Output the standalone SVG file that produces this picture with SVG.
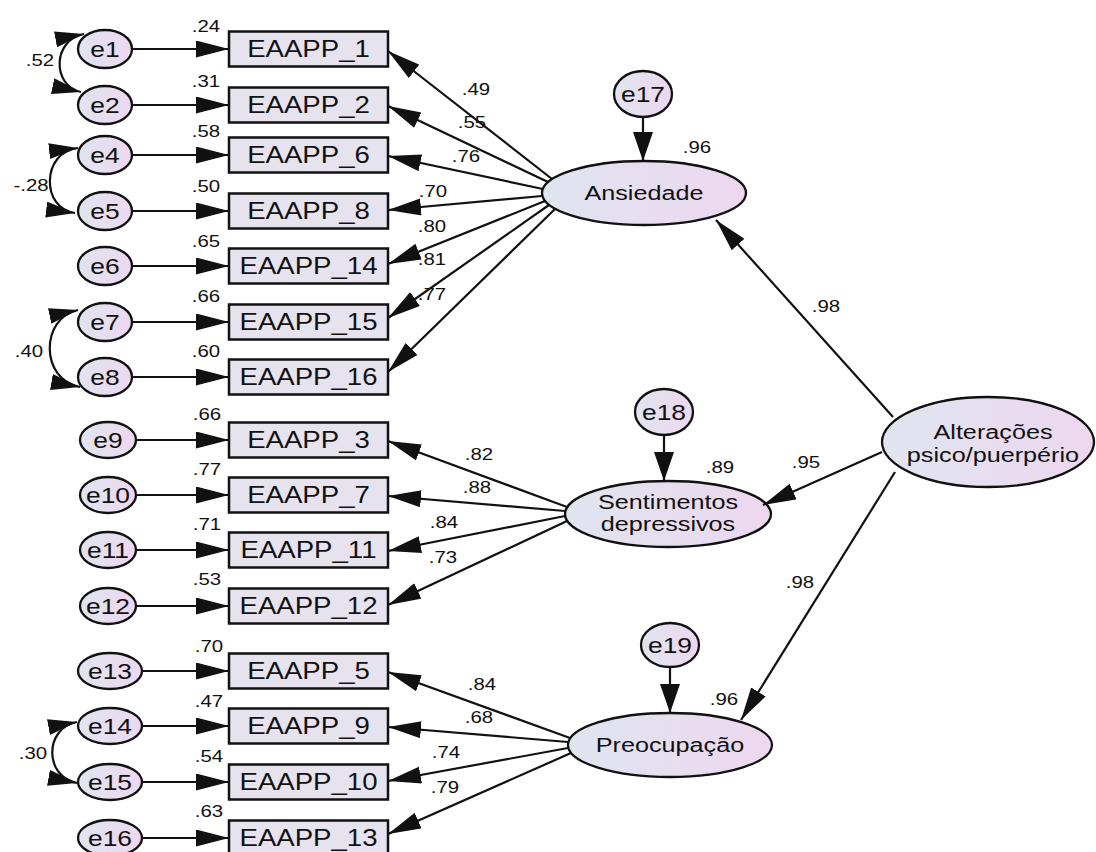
<svg xmlns="http://www.w3.org/2000/svg" width="1096" height="852" viewBox="0 0 1096 852">
  <defs>
    <linearGradient id="fillLat" x1="0" y1="0" x2="1" y2="0">
      <stop offset="0" stop-color="#dfe5ef"/>
      <stop offset="1" stop-color="#eed7ef"/>
    </linearGradient>
    <marker id="arr" markerUnits="userSpaceOnUse" markerWidth="34" markerHeight="18" refX="33" refY="8.5" orient="auto">
      <path d="M0,0 L33,8.5 L0,17 z" fill="#111"/>
    </marker>
    <marker id="arrV" markerUnits="userSpaceOnUse" markerWidth="30" markerHeight="21" refX="29" refY="10" orient="auto">
      <path d="M0,0 L29,10 L0,20 z" fill="#111"/>
    </marker>
    <marker id="arrCov" markerUnits="userSpaceOnUse" markerWidth="30" markerHeight="17" refX="29" refY="8" orient="auto-start-reverse">
      <path d="M0,0 L29,8 L0,16 z" fill="#111"/>
    </marker>
    <style>
      text { font-family: "Liberation Sans", Arial, sans-serif; text-anchor: middle; fill: #111;
             transform-box: fill-box; transform-origin: center; transform: scaleX(1.2); }
      .obs { font-size: 23px; }
      .lat { font-size: 21px; }
      .err { font-size: 22px; }
      .num { font-size: 17px; }
      rect.box { fill: #e6e3ef; stroke: #111; stroke-width: 2.5; }
      ellipse { fill: url(#fillLat); stroke: #111; stroke-width: 2.3; }
      #connectors line, #connectors path { stroke: #111; stroke-width: 2.2; fill: none; }
    </style>
  </defs>
  <rect width="1096" height="852" fill="#ffffff"/>

  <!-- observed indicators -->
  <g id="EAAPP_1"><rect class="box" x="229" y="31.5" width="159" height="35"/><text class="obs" x="308.5" y="57.5">EAAPP_1</text></g>
  <g id="EAAPP_2"><rect class="box" x="229" y="87.5" width="159" height="35"/><text class="obs" x="308.5" y="113.5">EAAPP_2</text></g>
  <g id="EAAPP_6"><rect class="box" x="229" y="137.5" width="159" height="35"/><text class="obs" x="308.5" y="163.5">EAAPP_6</text></g>
  <g id="EAAPP_8"><rect class="box" x="229" y="193.5" width="159" height="35"/><text class="obs" x="308.5" y="219.5">EAAPP_8</text></g>
  <g id="EAAPP_14"><rect class="box" x="229" y="248.5" width="159" height="35"/><text class="obs" x="308.5" y="274.5">EAAPP_14</text></g>
  <g id="EAAPP_15"><rect class="box" x="229" y="304.5" width="159" height="35"/><text class="obs" x="308.5" y="330.5">EAAPP_15</text></g>
  <g id="EAAPP_16"><rect class="box" x="229" y="359.5" width="159" height="35"/><text class="obs" x="308.5" y="385.5">EAAPP_16</text></g>
  <g id="EAAPP_3"><rect class="box" x="229" y="422.5" width="159" height="35"/><text class="obs" x="308.5" y="448.5">EAAPP_3</text></g>
  <g id="EAAPP_7"><rect class="box" x="229" y="477.5" width="159" height="35"/><text class="obs" x="308.5" y="503.5">EAAPP_7</text></g>
  <g id="EAAPP_11"><rect class="box" x="229" y="532.5" width="159" height="35"/><text class="obs" x="308.5" y="558.5">EAAPP_11</text></g>
  <g id="EAAPP_12"><rect class="box" x="229" y="588.5" width="159" height="35"/><text class="obs" x="308.5" y="614.5">EAAPP_12</text></g>
  <g id="EAAPP_5"><rect class="box" x="229" y="653.5" width="159" height="35"/><text class="obs" x="308.5" y="679.5">EAAPP_5</text></g>
  <g id="EAAPP_9"><rect class="box" x="229" y="708.5" width="159" height="35"/><text class="obs" x="308.5" y="734.5">EAAPP_9</text></g>
  <g id="EAAPP_10"><rect class="box" x="229" y="764.5" width="159" height="35"/><text class="obs" x="308.5" y="790.5">EAAPP_10</text></g>
  <g id="EAAPP_13"><rect class="box" x="229" y="820.5" width="159" height="35"/><text class="obs" x="308.5" y="846.5">EAAPP_13</text></g>

  <!-- squared multiple correlations of the indicators -->
  <g id="r2-indicators">
    <text class="num" x="206" y="32">.24</text>
    <text class="num" x="206" y="87">.31</text>
    <text class="num" x="206" y="137">.58</text>
    <text class="num" x="206" y="192">.50</text>
    <text class="num" x="206" y="247">.65</text>
    <text class="num" x="206" y="302">.66</text>
    <text class="num" x="206" y="357">.60</text>
    <text class="num" x="207" y="420">.66</text>
    <text class="num" x="207" y="475">.77</text>
    <text class="num" x="207" y="530">.71</text>
    <text class="num" x="207" y="585">.53</text>
    <text class="num" x="209" y="652">.70</text>
    <text class="num" x="209" y="707">.47</text>
    <text class="num" x="209" y="762">.54</text>
    <text class="num" x="209" y="817">.63</text>
  </g>

  <!-- measurement errors -->
  <g id="e1"><ellipse cx="105" cy="49" rx="27" ry="19"/><text class="err" x="105" y="57">e1</text></g>
  <g id="e2"><ellipse cx="105" cy="105" rx="27" ry="19"/><text class="err" x="105" y="113">e2</text></g>
  <g id="e4"><ellipse cx="105" cy="155" rx="27" ry="19"/><text class="err" x="105" y="163">e4</text></g>
  <g id="e5"><ellipse cx="105" cy="211" rx="27" ry="19"/><text class="err" x="105" y="219">e5</text></g>
  <g id="e6"><ellipse cx="105" cy="266" rx="27" ry="19"/><text class="err" x="105" y="274">e6</text></g>
  <g id="e7"><ellipse cx="105" cy="322" rx="27" ry="19"/><text class="err" x="105" y="330">e7</text></g>
  <g id="e8"><ellipse cx="105" cy="377" rx="27" ry="19"/><text class="err" x="105" y="385">e8</text></g>
  <g id="e9"><ellipse cx="108" cy="440" rx="28" ry="18"/><text class="err" x="108" y="448">e9</text></g>
  <g id="e10"><ellipse cx="108" cy="495" rx="28" ry="18"/><text class="err" x="108" y="503">e10</text></g>
  <g id="e11"><ellipse cx="108" cy="550" rx="28" ry="18"/><text class="err" x="108" y="558">e11</text></g>
  <g id="e12"><ellipse cx="108" cy="606" rx="28" ry="18"/><text class="err" x="108" y="614">e12</text></g>
  <g id="e13"><ellipse cx="110" cy="671" rx="32" ry="18"/><text class="err" x="110" y="679">e13</text></g>
  <g id="e14"><ellipse cx="110" cy="726" rx="32" ry="18"/><text class="err" x="110" y="734">e14</text></g>
  <g id="e15"><ellipse cx="110" cy="782" rx="32" ry="18"/><text class="err" x="110" y="790">e15</text></g>
  <g id="e16"><ellipse cx="110" cy="838" rx="32" ry="18"/><text class="err" x="110" y="846">e16</text></g>

  <!-- latent factors -->
  <g id="Ansiedade"><ellipse cx="644" cy="193" rx="102" ry="32"/><text class="lat" x="644" y="200">Ansiedade</text></g>
  <g id="Sentimentos"><ellipse cx="668" cy="514" rx="103" ry="33"/><text class="lat" x="668" y="509">Sentimentos</text><text class="lat" x="668" y="531">depressivos</text></g>
  <g id="Preocupacao"><ellipse cx="670" cy="745" rx="102" ry="32"/><text class="lat" x="670" y="752">Preocupação</text></g>
  <g id="Alteracoes"><ellipse cx="988" cy="442" rx="106" ry="45"/><text class="lat" x="993" y="439">Alterações</text><text class="lat" x="993" y="462">psico/puerpério</text></g>

  <!-- disturbances -->
  <g id="e17"><ellipse cx="643" cy="94" rx="29" ry="23"/><text class="err" x="643" y="102">e17</text></g>
  <g id="e18"><ellipse cx="664" cy="412" rx="29" ry="23"/><text class="err" x="664" y="420">e18</text></g>
  <g id="e19"><ellipse cx="670" cy="645" rx="29" ry="22"/><text class="err" x="670" y="653">e19</text></g>

  <g id="connectors">
    <!-- error terms into indicators -->
    <line x1="132" y1="49" x2="229" y2="49" marker-end="url(#arr)"/>
    <line x1="132" y1="105" x2="229" y2="105" marker-end="url(#arr)"/>
    <line x1="132" y1="155" x2="229" y2="155" marker-end="url(#arr)"/>
    <line x1="132" y1="211" x2="229" y2="211" marker-end="url(#arr)"/>
    <line x1="132" y1="266" x2="229" y2="266" marker-end="url(#arr)"/>
    <line x1="132" y1="322" x2="229" y2="322" marker-end="url(#arr)"/>
    <line x1="132" y1="377" x2="229" y2="377" marker-end="url(#arr)"/>
    <line x1="136" y1="440" x2="229" y2="440" marker-end="url(#arr)"/>
    <line x1="136" y1="495" x2="229" y2="495" marker-end="url(#arr)"/>
    <line x1="136" y1="550" x2="229" y2="550" marker-end="url(#arr)"/>
    <line x1="136" y1="606" x2="229" y2="606" marker-end="url(#arr)"/>
    <line x1="142" y1="671" x2="229" y2="671" marker-end="url(#arr)"/>
    <line x1="142" y1="726" x2="229" y2="726" marker-end="url(#arr)"/>
    <line x1="142" y1="782" x2="229" y2="782" marker-end="url(#arr)"/>
    <line x1="142" y1="838" x2="229" y2="838" marker-end="url(#arr)"/>

    <!-- error covariances -->
    <path d="M84,34 C52,40 52,86 81,92" marker-start="url(#arrCov)" marker-end="url(#arrCov)"/>
    <path d="M78,148 C41,152 41,209 75,213" marker-start="url(#arrCov)" marker-end="url(#arrCov)"/>
    <path d="M78,310 C40,318 40,380 80,387" marker-start="url(#arrCov)" marker-end="url(#arrCov)"/>
    <path d="M77,722 C44,728 44,777 77,783" marker-start="url(#arrCov)" marker-end="url(#arrCov)"/>

    <!-- Ansiedade loadings -->
    <line x1="552" y1="179" x2="388" y2="51" marker-end="url(#arr)"/>
    <line x1="548" y1="182" x2="388" y2="106" marker-end="url(#arr)"/>
    <line x1="543" y1="189" x2="388" y2="156" marker-end="url(#arr)"/>
    <line x1="542" y1="196" x2="388" y2="210" marker-end="url(#arr)"/>
    <line x1="545" y1="201" x2="388" y2="264" marker-end="url(#arr)"/>
    <line x1="549" y1="205" x2="388" y2="318" marker-end="url(#arr)"/>
    <line x1="555" y1="209" x2="388" y2="372" marker-end="url(#arr)"/>

    <!-- Sentimentos depressivos loadings -->
    <line x1="567" y1="507" x2="388" y2="441" marker-end="url(#arr)"/>
    <line x1="565" y1="511" x2="388" y2="496" marker-end="url(#arr)"/>
    <line x1="565" y1="516" x2="388" y2="551" marker-end="url(#arr)"/>
    <line x1="567" y1="521" x2="388" y2="605" marker-end="url(#arr)"/>

    <!-- Preocupação loadings -->
    <line x1="570" y1="738" x2="388" y2="672" marker-end="url(#arr)"/>
    <line x1="568" y1="742" x2="388" y2="727" marker-end="url(#arr)"/>
    <line x1="568" y1="748" x2="388" y2="781" marker-end="url(#arr)"/>
    <line x1="571" y1="753" x2="388" y2="834" marker-end="url(#arr)"/>

    <!-- disturbances into factors -->
    <line x1="643" y1="117" x2="643" y2="161" marker-end="url(#arrV)"/>
    <line x1="664" y1="435" x2="664" y2="481" marker-end="url(#arrV)"/>
    <line x1="670" y1="667" x2="670" y2="713" marker-end="url(#arrV)"/>

    <!-- second-order factor paths -->
    <line x1="893" y1="417" x2="716" y2="220" marker-end="url(#arr)"/>
    <line x1="882" y1="452" x2="763" y2="505" marker-end="url(#arr)"/>
    <line x1="895" y1="472" x2="741" y2="720" marker-end="url(#arr)"/>
  </g>

  <!-- covariance estimates -->
  <g id="cov-labels">
    <text class="num" x="40" y="66">.52</text>
    <text class="num" x="31" y="191">-.28</text>
    <text class="num" x="29" y="357">.40</text>
    <text class="num" x="33" y="759">.30</text>
  </g>

  <!-- standardized loadings -->
  <g id="loading-labels">
    <text class="num" x="476" y="95">.49</text>
    <text class="num" x="472" y="128">.55</text>
    <text class="num" x="466" y="162">.76</text>
    <text class="num" x="433" y="197">.70</text>
    <text class="num" x="432" y="232">.80</text>
    <text class="num" x="432" y="265">.81</text>
    <text class="num" x="432" y="300">.77</text>
    <text class="num" x="479" y="460">.82</text>
    <text class="num" x="477" y="493">.88</text>
    <text class="num" x="444" y="528">.84</text>
    <text class="num" x="443" y="563">.73</text>
    <text class="num" x="482" y="690">.84</text>
    <text class="num" x="479" y="723">.68</text>
    <text class="num" x="446" y="758">.74</text>
    <text class="num" x="445" y="793">.79</text>
  </g>

  <!-- structural estimates and factor R² -->
  <g id="structural-labels">
    <text class="num" x="697" y="153">.96</text>
    <text class="num" x="720" y="473">.89</text>
    <text class="num" x="724" y="705">.96</text>
    <text class="num" x="826" y="312">.98</text>
    <text class="num" x="806" y="468">.95</text>
    <text class="num" x="800" y="588">.98</text>
  </g>
</svg>
